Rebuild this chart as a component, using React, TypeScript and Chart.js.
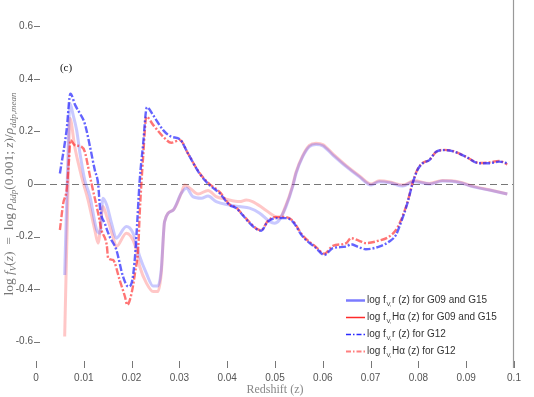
import React, { useEffect, useRef } from "react";
import { Chart, registerables } from "chart.js";

Chart.register(...registerables);

// ---------- data (redshift z, log f_V) ----------
// G12, r band (dash-dot blue)
const zR12 = [0.0050, 0.0064, 0.0072, 0.0082, 0.0092, 0.0102, 0.0113, 0.0123, 0.0130, 0.0134, 0.0144, 0.0154, 0.0168, 0.0182, 0.0193, 0.0200, 0.0206, 0.0210, 0.0217, 0.0224, 0.0232, 0.0245, 0.0266, 0.0283, 0.0301, 0.0318, 0.0342, 0.0363, 0.0384, 0.0405, 0.0419, 0.0433, 0.0447, 0.0460, 0.0471, 0.0485, 0.0503, 0.0523, 0.0537, 0.0558, 0.0586, 0.0603, 0.0621, 0.0649, 0.0659, 0.0675, 0.0690, 0.0718, 0.0739, 0.0753, 0.0763, 0.0777, 0.0788, 0.0798, 0.0809, 0.0823, 0.0837, 0.0854, 0.0871, 0.0899, 0.0927, 0.0948, 0.0969, 0.0986];
const vR12 = [0.04, 0.205, 0.344, 0.30, 0.268, 0.23, 0.142, 0.053, 0.0, -0.092, -0.15, -0.2, -0.25, -0.352, -0.39, -0.377, -0.30, -0.2, 0.015, 0.15, 0.292, 0.262, 0.205, 0.18, 0.17, 0.116, 0.04, -0.004, -0.035, -0.08, -0.092, -0.12, -0.149, -0.17, -0.178, -0.143, -0.13, -0.13, -0.143, -0.2, -0.244, -0.27, -0.244, -0.238, -0.229, -0.24, -0.248, -0.238, -0.219, -0.194, -0.149, -0.073, 0.003, 0.053, 0.079, 0.091, 0.123, 0.129, 0.125, 0.104, 0.079, 0.079, 0.085, 0.079];

// G12, H-alpha (dash-dot light red)
const zHa12 = [0.0050, 0.0057, 0.0064, 0.0069, 0.0072, 0.0081, 0.0095, 0.0102, 0.0109, 0.0116, 0.0130, 0.0137, 0.0148, 0.0151, 0.0161, 0.0175, 0.0186, 0.0191, 0.0200, 0.0207, 0.0214, 0.0217, 0.0224, 0.0231, 0.0245, 0.0266, 0.0283, 0.0301, 0.0318, 0.0342, 0.0363, 0.0384, 0.0405, 0.0419, 0.0433, 0.0447, 0.0460, 0.0471, 0.0485, 0.0503, 0.0523, 0.0537, 0.0558, 0.0586, 0.0603, 0.0621, 0.0649, 0.0659, 0.0675, 0.0690, 0.0718, 0.0739, 0.0753, 0.0763, 0.0777, 0.0788, 0.0798, 0.0809, 0.0823, 0.0837, 0.0854, 0.0871, 0.0899, 0.0927, 0.0948, 0.0969, 0.0986];
const vHa12 = [-0.175, -0.073, -0.023, 0.09, 0.167, 0.148, 0.142, 0.123, 0.066, 0.003, -0.111, -0.175, -0.232, -0.282, -0.289, -0.365, -0.428, -0.46, -0.415, -0.34, -0.238, -0.11, 0.10, 0.256, 0.225, 0.18, 0.157, 0.167, 0.116, 0.042, 0.0, -0.03, -0.078, -0.09, -0.118, -0.146, -0.168, -0.176, -0.14, -0.125, -0.126, -0.14, -0.196, -0.24, -0.265, -0.235, -0.225, -0.206, -0.215, -0.225, -0.215, -0.2, -0.175, -0.14, -0.07, 0.005, 0.055, 0.08, 0.092, 0.122, 0.13, 0.126, 0.104, 0.08, 0.082, 0.088, 0.075];

// G09 and G15, r band (solid, faint blue)
const zR = [0.0060, 0.0066, 0.0071, 0.0078, 0.0085, 0.0092, 0.0102, 0.0113, 0.0127, 0.0134, 0.0140, 0.0148, 0.0158, 0.0168, 0.0189, 0.0203, 0.0217, 0.0231, 0.0245, 0.0255, 0.0262, 0.0269, 0.0287, 0.0304, 0.0315, 0.0328, 0.0346, 0.0360, 0.0377, 0.0405, 0.0426, 0.0447, 0.0468, 0.0489, 0.0499, 0.0509, 0.0523, 0.0537, 0.0544, 0.0558, 0.0572, 0.0586, 0.0600, 0.0621, 0.0649, 0.0676, 0.0701, 0.0718, 0.0740, 0.0767, 0.0791, 0.0823, 0.0850, 0.0885, 0.0913, 0.0948, 0.0986];
const vR = [-0.346, 0.05, 0.306, 0.26, 0.205, 0.117, 0.015, -0.048, -0.175, -0.187, -0.054, -0.08, -0.149, -0.206, -0.162, -0.187, -0.276, -0.34, -0.388, -0.388, -0.327, -0.143, -0.099, -0.035, -0.016, -0.048, -0.054, -0.046, -0.067, -0.08, -0.086, -0.092, -0.111, -0.143, -0.149, -0.137, -0.086, -0.01, 0.04, 0.104, 0.142, 0.15, 0.145, 0.11, 0.066, 0.028, -0.004, 0.009, 0.005, -0.008, 0.009, 0.0, 0.011, 0.006, -0.01, -0.023, -0.038];

// G09 and G15, H-alpha (solid, faint red)
const zHa = [0.0060, 0.0066, 0.0071, 0.0081, 0.0092, 0.0099, 0.0109, 0.0123, 0.0130, 0.0140, 0.0148, 0.0161, 0.0168, 0.0189, 0.0207, 0.0217, 0.0231, 0.0245, 0.0255, 0.0262, 0.0269, 0.0287, 0.0304, 0.0311, 0.0322, 0.0339, 0.0360, 0.0377, 0.0398, 0.0426, 0.0440, 0.0453, 0.0475, 0.0495, 0.0509, 0.0523, 0.0537, 0.0544, 0.0558, 0.0572, 0.0586, 0.0600, 0.0621, 0.0649, 0.0676, 0.0701, 0.0718, 0.0740, 0.0767, 0.0791, 0.0823, 0.0850, 0.0885, 0.0913, 0.0948, 0.0986];
const vHa = [-0.58, -0.1, 0.25, 0.142, 0.053, 0.003, -0.061, -0.175, -0.225, -0.086, -0.124, -0.2, -0.238, -0.187, -0.232, -0.314, -0.377, -0.409, -0.409, -0.34, -0.143, -0.099, -0.035, -0.004, -0.016, -0.038, -0.025, -0.048, -0.058, -0.067, -0.061, -0.067, -0.092, -0.118, -0.13, -0.08, -0.005, 0.045, 0.108, 0.147, 0.155, 0.15, 0.115, 0.07, 0.032, 0.0, 0.012, 0.008, -0.004, 0.012, 0.002, 0.013, 0.008, -0.008, -0.022, -0.038];

// tick values
const yTickValues = Array.from({ length: 35 }, (_, i) => Math.round((-0.68 + i * 0.04) * 100) / 100);
const xTickValues = Array.from({ length: 21 }, (_, i) => Math.round(i * 0.005 * 1000) / 1000);

const legendLabels = [
  "r (z) for G09 and G15",
  "Hα (z) for G09 and G15",
  "r (z) for G12",
  "Hα (z) for G12",
];
const xTitle = "Redshift (z)";
const panelTag = "(c)";

const zip = (xs: number[], ys: number[]) => xs.map((x, i) => ({ x, y: ys[i] }));

const SANS = '"Liberation Sans", Arial, sans-serif';
const SERIF = '"Liberation Serif", "Times New Roman", serif';

const near = (v: number, step: number) => Math.abs(v / step - Math.round(v / step)) < 1e-6;

const noPad = (s: any) => {
  s.paddingTop = 0;
  s.paddingBottom = 0;
  s.paddingLeft = 0;
  s.paddingRight = 0;
};

const decor = {
  id: "decor",
  beforeDatasetsDraw(chart: any) {
    const { ctx, chartArea: a, scales } = chart;
    const y0 = scales.y.getPixelForValue(0);
    ctx.save();
    ctx.strokeStyle = "#777";
    ctx.lineWidth = 1;
    ctx.setLineDash([7, 4]);
    ctx.beginPath();
    ctx.moveTo(a.left + 3, Math.round(y0) + 0.5);
    ctx.lineTo(a.right, Math.round(y0) + 0.5);
    ctx.stroke();
    ctx.restore();
  },
  afterDraw(chart: any) {
    const { ctx, chartArea: a, scales } = chart;
    const xs = scales.x, ys = scales.y;
    ctx.save();
    // inward tick marks
    ctx.strokeStyle = "#777";
    ctx.lineWidth = 1;
    ys.ticks.forEach((t: any) => {
      const v = t.value;
      const major = near(v, 0.2);
      const py = Math.round(ys.getPixelForValue(v)) + 0.5;
      ctx.beginPath();
      ctx.moveTo(a.left - (major ? 2 : 0), py);
      ctx.lineTo(a.left + 4, py);
      ctx.stroke();
    });
    xs.ticks.forEach((t: any) => {
      const v = t.value;
      const major = near(v, 0.01);
      const px = Math.round(xs.getPixelForValue(v)) + 0.5;
      ctx.beginPath();
      ctx.moveTo(px, a.bottom);
      ctx.lineTo(px, a.bottom - (major ? 7 : 5));
      ctx.stroke();
    });
    // right frame line
    ctx.strokeStyle = "#999";
    ctx.lineWidth = 1.2;
    ctx.beginPath();
    ctx.moveTo(a.right - 0.5, 0);
    ctx.lineTo(a.right - 0.5, a.bottom);
    ctx.stroke();

    // panel tag
    ctx.fillStyle = "#111";
    ctx.font = `11px ${SERIF}`;
    ctx.textAlign = "left";
    ctx.textBaseline = "middle";
    ctx.fillText(panelTag, xs.getPixelForValue(0.005), ys.getPixelForValue(0.44));

    // y title (rich text, rotated)
    const size = 13.5;
    const segs: [string, boolean, boolean][] = [
      ["log ", false, false],
      ["f", true, false],
      ["V", true, true],
      ["(", false, false],
      ["z", true, false],
      [")  =  log ", false, false],
      ["ρ", true, false],
      ["ddp", true, true],
      ["(0.001; ", false, false],
      ["z", true, false],
      [")/", false, false],
      ["ρ", true, false],
      ["ddp,mean", true, true],
    ];
    const fontOf = (it: boolean, sub: boolean) =>
      `${it ? "italic " : ""}${sub ? Math.round(size * 0.7) : size}px ${SERIF}`;
    let total = 0;
    segs.forEach(([s, it, sub]) => {
      ctx.font = fontOf(it, sub);
      total += ctx.measureText(s).width;
    });
    ctx.translate(13, 194);
    ctx.rotate(-Math.PI / 2);
    ctx.fillStyle = "#777";
    ctx.textBaseline = "alphabetic";
    let cx = -total / 2;
    segs.forEach(([s, it, sub]) => {
      ctx.font = fontOf(it, sub);
      ctx.fillText(s, cx, sub ? 3 : 0);
      cx += ctx.measureText(s).width;
    });
    ctx.setTransform(1, 0, 0, 1, 0, 0);

    // legend
    const rows = [
      { color: "#7b7bff", dash: [] as number[], w: 2.5 },
      { color: "#ff2a2a", dash: [] as number[], w: 1.5 },
      { color: "#2a2aff", dash: [5, 2, 1.5, 2], w: 1.3 },
      { color: "#ff8080", dash: [5, 2, 1.5, 2], w: 2 },
    ];
    rows.forEach((r, i) => {
      const yy = 300 + i * 17;
      ctx.strokeStyle = r.color;
      ctx.lineWidth = r.w;
      ctx.setLineDash(r.dash);
      ctx.beginPath();
      ctx.moveTo(346, yy + 0.5);
      ctx.lineTo(365, yy + 0.5);
      ctx.stroke();
      ctx.setLineDash([]);
      ctx.fillStyle = "#333";
      ctx.textBaseline = "alphabetic";
      let tx = 367;
      ctx.font = `10px ${SANS}`;
      ctx.fillText("log f", tx, yy + 3);
      tx += ctx.measureText("log f").width + 0.5;
      ctx.font = `6px ${SANS}`;
      ctx.fillText("V,", tx, yy + 6);
      tx += ctx.measureText("V,").width + 0.5;
      ctx.font = `10px ${SANS}`;
      ctx.fillText(legendLabels[i], tx, yy + 3);
    });
    ctx.restore();
  },
};

export default function App() {
  const ref = useRef<HTMLCanvasElement | null>(null);
  useEffect(() => {
    if (!ref.current) return;
    const common = {
      fill: false,
      pointRadius: 0,
      cubicInterpolationMode: "monotone" as const,
    };
    const chart = new Chart(ref.current, {
      type: "line",
      data: {
        datasets: [
          { ...common, label: "log f_V,r (z) for G12", data: zip(zR12, vR12), borderColor: "rgba(40,40,255,0.72)", borderWidth: 2.4, borderDash: [7, 2, 2, 2], order: 1 },
          { ...common, label: "log f_V,Hα (z) for G12", data: zip(zHa12, vHa12), borderColor: "rgba(255,30,30,0.62)", borderWidth: 2.4, borderDash: [7, 2, 2, 2], order: 2 },
          { ...common, label: "log f_V,r (z) for G09 and G15", data: zip(zR, vR), borderColor: "rgba(60,60,255,0.28)", borderWidth: 3, order: 3 },
          { ...common, label: "log f_V,Hα (z) for G09 and G15", data: zip(zHa, vHa), borderColor: "rgba(255,40,40,0.26)", borderWidth: 3, order: 4 },
        ],
      },
      options: {
        animation: false,
        responsive: false,
        maintainAspectRatio: false,
        layout: { padding: { left: 0, right: 20, top: 0, bottom: 0 } },
        plugins: { legend: { display: false }, tooltip: { enabled: false } },
        scales: {
          x: {
            type: "linear",
            min: 0,
            max: 0.1,
            grid: { display: false, drawTicks: false },
            border: { display: false },
            afterBuildTicks: (s: any) => { s.ticks = xTickValues.map((value) => ({ value })); },
            ticks: {
              autoSkip: false,
              maxRotation: 0,
              padding: 4,
              color: "#555",
              font: { family: SANS, size: 10 },
              callback: (v: any) => (near(Number(v), 0.01) ? String(parseFloat(Number(v).toFixed(2))) : null),
            },
            title: {
              display: true,
              text: xTitle,
              color: "#888",
              font: { family: SERIF, size: 12 },
              padding: { top: 0, bottom: 0 },
            },
            afterFit: (s: any) => { s.height = 29; noPad(s); },
          },
          y: {
            type: "linear",
            min: -0.7,
            max: 0.7,
            grid: { display: false, drawTicks: false },
            border: { display: false },
            afterBuildTicks: (s: any) => { s.ticks = yTickValues.map((value) => ({ value })); },
            ticks: {
              autoSkip: false,
              padding: 3,
              color: "#555",
              font: { family: SANS, size: 10 },
              callback: (v: any) => {
                const n = Number(v);
                if (!near(n, 0.2)) return null;
                return String(parseFloat(n.toFixed(1)));
              },
            },
            afterFit: (s: any) => { s.width = 36; noPad(s); },
          },
        },
      },
      plugins: [decor],
    } as any);
    return () => chart.destroy();
  }, []);
  return (
    <div style={{ position: "absolute", left: 0, top: 0, width: 534, height: 397, background: "#fff" }}>
      <canvas ref={ref} width={534} height={397} style={{ width: 534, height: 397, display: "block" }} />
    </div>
  );
}
